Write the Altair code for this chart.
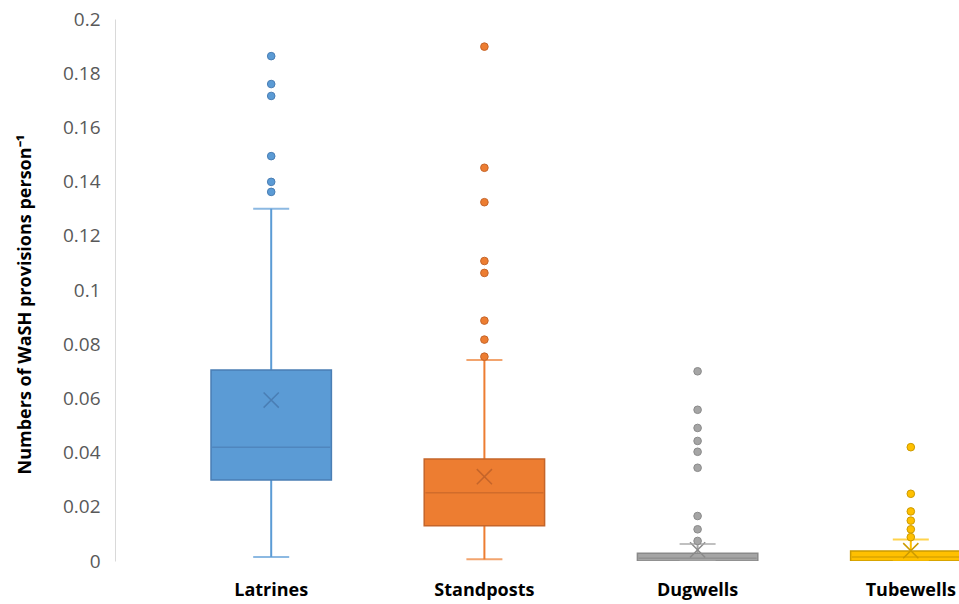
import altair as alt
import pandas as pd

# Provision types and five-number summaries (per person)
categories = ["Latrines", "Standposts", "Dugwells", "Tubewells"]
whisker_low = [0.0015, 0.0006, 0.0, 0.0]
q1 = [0.0299, 0.0130, 0.0, 0.0]
median = [0.0420, 0.0252, 0.0010, 0.0015]
q3 = [0.0705, 0.0376, 0.0029, 0.0037]
whisker_high = [0.1300, 0.0742, 0.0063, 0.0079]
mean = [0.0594, 0.0311, 0.0041, 0.0038]

# Outlying values per provision type
outliers = {
    "Latrines": [0.1863, 0.1760, 0.1716, 0.1494, 0.1399, 0.1362],
    "Standposts": [0.1898, 0.1451, 0.1324, 0.1107, 0.1063, 0.0887, 0.0817, 0.0754],
    "Dugwells": [0.0700, 0.0558, 0.0491, 0.0443, 0.0403, 0.0344, 0.0166, 0.0117, 0.0074],
    "Tubewells": [0.0420, 0.0248, 0.0183, 0.0149, 0.0117, 0.0088],
}

y_ticks = [0, 0.02, 0.04, 0.06, 0.08, 0.1, 0.12, 0.14, 0.16, 0.18, 0.2]

base_colors = ["#5B9BD5", "#ED7D31", "#A5A5A5", "#FFC000"]
dark_colors = ["#4A7EB4", "#C5652A", "#8A8A8A", "#CC9A00"]

stats = pd.DataFrame({
    "category": categories,
    "lo": whisker_low,
    "q1": q1,
    "median": median,
    "q3": q3,
    "hi": whisker_high,
    "mean": mean,
})
points = pd.DataFrame(
    [(c, v) for c in categories for v in outliers[c]],
    columns=["category", "value"],
)

x_enc = alt.X(
    "category:N",
    sort=categories,
    scale=alt.Scale(type="band", domain=categories, range=[96, 856],
                    paddingInner=0.4353, paddingOuter=0),
    axis=alt.Axis(title=None, domain=False, ticks=False, labelAngle=0,
                  labelFont="Open Sans", labelFontWeight="bold",
                  labelFontSize=18, labelColor="#000000", labelPadding=20),
)
y_scale = alt.Scale(domain=[0, 0.2], nice=False, zero=True)
y_axis = alt.Axis(
    title="Numbers of WaSH provisions person⁻¹",
    values=y_ticks, format="~g", grid=False, ticks=False,
    domainColor="#D9D9D9", domainWidth=1,
    labelFont="Open Sans", labelFontSize=19, labelColor="#595959",
    labelPadding=15,
    titleFont="Open Sans", titleFontWeight="bold", titleFontSize=18,
    titleColor="#000000", titleAngle=270, titleX=-90, titleY=285,
    titleAlign="center", titleBaseline="middle",
)

base_color = alt.Color("category:N", scale=alt.Scale(domain=categories, range=base_colors), legend=None)
dark_stroke = alt.Stroke("category:N", scale=alt.Scale(domain=categories, range=dark_colors), legend=None)
dark_fill = alt.Fill("category:N", scale=alt.Scale(domain=categories, range=dark_colors), legend=None)

box_base = alt.Chart(stats)

lower_whisker = box_base.mark_rule(strokeWidth=2, clip=True).encode(
    x=x_enc, y=alt.Y("lo:Q", scale=y_scale, axis=y_axis), y2="q1:Q", color=base_color)
upper_whisker = box_base.mark_rule(strokeWidth=2, clip=True).encode(
    x=x_enc, y=alt.Y("q3:Q", scale=y_scale, axis=y_axis), y2="hi:Q", color=base_color)
low_cap = box_base.mark_tick(size=36, thickness=2, orient="horizontal", clip=True).encode(
    x=x_enc, y=alt.Y("lo:Q", scale=y_scale, axis=y_axis), color=base_color)
high_cap = box_base.mark_tick(size=36, thickness=2, orient="horizontal", clip=True).encode(
    x=x_enc, y=alt.Y("hi:Q", scale=y_scale, axis=y_axis), color=base_color)
box = box_base.mark_bar(strokeWidth=1.5, clip=True).encode(
    x=x_enc, y=alt.Y("q1:Q", scale=y_scale, axis=y_axis), y2="q3:Q",
    color=base_color, stroke=dark_stroke)
median_line = box_base.mark_tick(size=118, thickness=1.5, orient="horizontal", clip=True).encode(
    x=x_enc, y=alt.Y("median:Q", scale=y_scale, axis=y_axis), fill=dark_fill)
mean_mark = box_base.mark_point(
    shape="M-1,-1L1,1M-1,1L1,-1", size=230, filled=False, strokeWidth=1.5,
    opacity=1, clip=True,
).encode(x=x_enc, y=alt.Y("mean:Q", scale=y_scale, axis=y_axis), stroke=dark_stroke)
outlier_dots = alt.Chart(points).mark_circle(size=58, opacity=1, strokeWidth=1, clip=True).encode(
    x=x_enc, y=alt.Y("value:Q", scale=y_scale, axis=y_axis), color=base_color, stroke=dark_stroke)

chart = alt.layer(
    lower_whisker, upper_whisker, box, median_line, mean_mark,
    low_cap, high_cap, outlier_dots,
).properties(
    width=844,
    height=542,
    padding={"left": 115, "top": 19, "right": 0, "bottom": 43},
    autosize=alt.AutoSizeParams(type="none"),
    background="#FFFFFF",
).configure_view(stroke=None)

chart.save("out.html", embed_options={"renderer": "svg", "actions": False})
